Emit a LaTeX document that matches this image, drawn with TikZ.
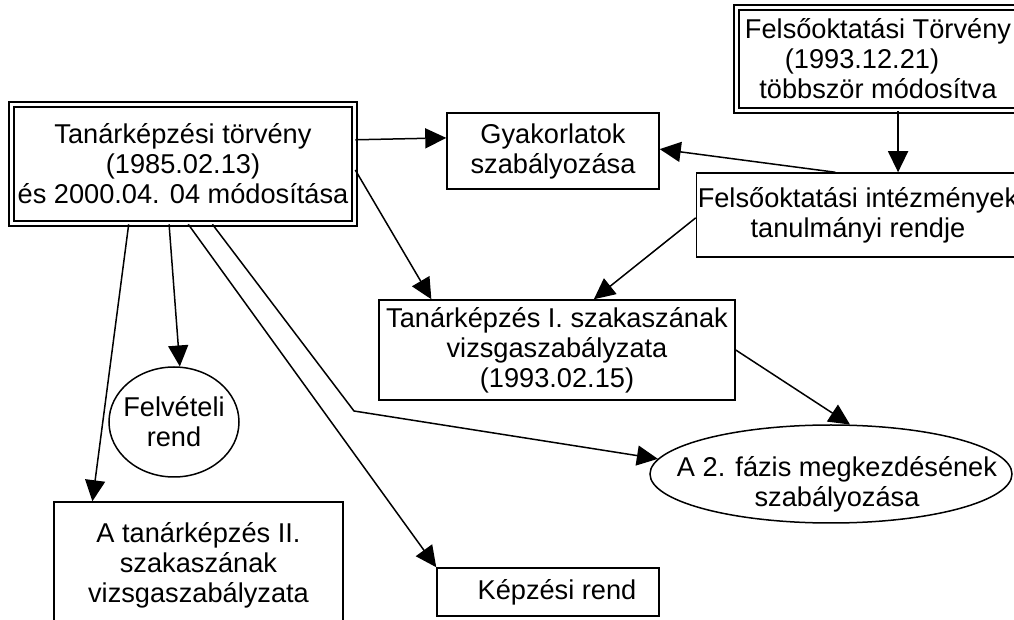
\documentclass[tikz,border=0pt]{standalone}
\usepackage{fontspec}
\setmainfont{Liberation Sans}
\usetikzlibrary{arrows.meta, shapes.geometric}

\begin{document}
\begin{tikzpicture}[x=0.5pt, y=-0.5pt,
    every node/.style={font=\fontsize{13.6pt}{15pt}\selectfont, align=center, inner sep=0pt},
    doboz/.style={draw, line width=0.75pt, rectangle},
    kettos/.style={draw, double, line width=0.8pt, double distance=1.5pt},
    ovalis/.style={draw, line width=0.75pt, ellipse},
    nyil/.style={line width=0.75pt, -{Triangle[length=10.5pt, width=10pt]}}]
    \useasboundingbox (0,0) rectangle (1014,620);

    % törvények
    \node[kettos, minimum width=171.5pt, minimum height=59.5pt] (tv) at (183,164)
        {Tanárképzési törvény\\(1985.02.13)\\és 2000.04. 04 módosítása};
    \node[kettos, minimum width=141.5pt, minimum height=51.5pt] (fotv) at (878,59)
        {Felsőoktatási Törvény\\(1993.12.21)\hspace*{16pt}\mbox{}\\többször módosítva};

    % szabályzatok
    \node[doboz, minimum width=106pt, minimum height=38pt] (gyak) at (553,151)
        {Gyakorlatok\\szabályozása};
    \node[doboz, minimum width=161.5pt, minimum height=42pt] (intez) at (858,215)
        {Felsőoktatási intézmények\\tanulmányi rendje};
    \node[doboz, minimum width=178pt, minimum height=50pt] (tk1) at (557,350)
        {Tanárképzés I. szakaszának\\vizsgaszabályzata\\(1993.02.15)};
    \node[doboz, minimum width=144.5pt, minimum height=63pt] (tk2) at (198.5,565)
        {A tanárképzés II.\\szakaszának\\vizsgaszabályzata};
    \node[doboz, minimum width=111pt, minimum height=24pt] (kepzes) at (548,592)
        {\hspace*{9pt}Képzési rend};

    % ellipszisek
    \node[ovalis, inner xsep=-4pt, minimum width=65pt, minimum height=55pt] (felv) at (174,422)
        {Felvételi\\rend};
    \node[ovalis, minimum width=181pt, minimum height=49pt] (fazis) at (831,474) {};
    \node (fazisszoveg) at ([xshift=3pt, yshift=-5pt]fazis.center)
        {A 2. fázis megkezdésének\\szabályozása};

    % nyilak
    \coordinate (bend) at (354,411);
    \draw[nyil] (tv.8.5) -- (gyak.173);
    \draw[nyil] (tv.-2.6) -- (tk1.158);
    \draw[nyil] (intez.181) -- (tk1.54);
    \draw[nyil] (intez.118.7) -- (gyak.1);
    \draw[nyil] (fotv.-69.7) -- (fotv.-69.7 |- intez.north);
    \draw[nyil] (tk1.-0.6) -- (fazis.69);
    \draw[nyil] (tv.-64.5) -- (bend) -- (fazis.175);
    \draw[nyil] (tv.-85.4) -- (kepzes.north west);
    \draw[nyil] (tv.-103.4) -- (felv.84);
    \draw[nyil] (tv.228.9) -- (tk2.149.6);
\end{tikzpicture}
\end{document}
